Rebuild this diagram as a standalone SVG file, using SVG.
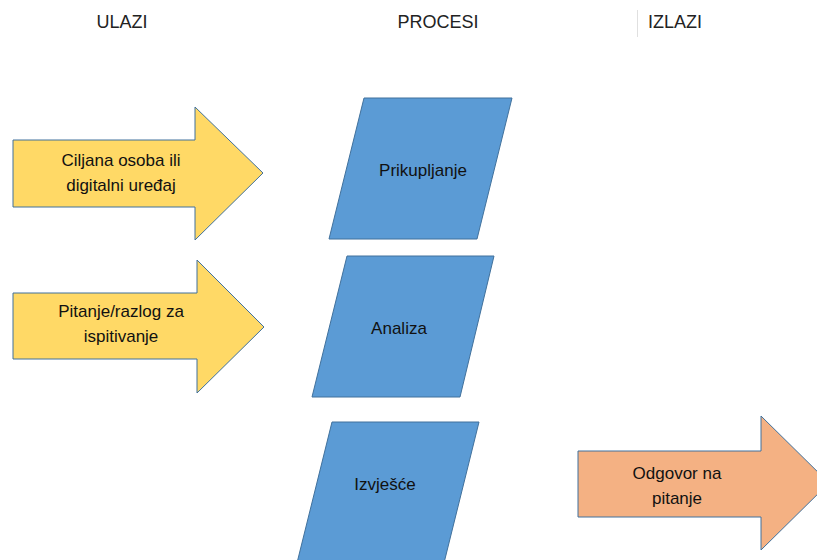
<svg xmlns="http://www.w3.org/2000/svg" width="817" height="560" viewBox="0 0 817 560">
<style>
text{font-family:"Liberation Sans",Arial,sans-serif;fill:#111;text-anchor:middle}
.h{font-size:18px;fill:#222}
.t{font-size:17px}
.in{fill:#FFD966;stroke:#41719C;stroke-width:1}
.pr{fill:#5B9BD5;stroke:#41719C;stroke-width:1}
.out{fill:#F4B183;stroke:#41719C;stroke-width:1}
</style>
<rect width="817" height="560" fill="#fff"/>
<g id="headers">
<text class="h" x="122" y="28">ULAZI</text>
<text class="h" x="438" y="28">PROCESI</text>
<text class="h" x="675" y="28">IZLAZI</text>
<line x1="637.5" y1="10" x2="637.5" y2="37" stroke="#e0e0e0" stroke-width="1"/>
</g>
<g id="connectors"></g>
<g id="in1">
<polygon class="in" points="13,140 195,140 195,107 263,173 195,240 195,207 13,207"/>
<text class="t" x="121" y="166">Ciljana osoba ili</text>
<text class="t" x="121" y="191">digitalni uređaj</text>
</g>
<g id="in2">
<polygon class="in" points="13,293 197,293 197,260 264,327 197,393 197,359 13,359"/>
<text class="t" x="121" y="317">Pitanje/razlog za</text>
<text class="t" x="121" y="342">ispitivanje</text>
</g>
<g id="p1">
<polygon class="pr" points="364,98 512,98 477,239 329,239"/>
<text class="t" x="423" y="176">Prikupljanje</text>
</g>
<g id="p2">
<polygon class="pr" points="347,256 494,256 460,397 312,397"/>
<text class="t" x="399" y="334">Analiza</text>
</g>
<g id="p3">
<polygon class="pr" points="332,422 479,422 444,563 297,563"/>
<text class="t" x="385" y="490">Izvješće</text>
</g>
<g id="out1">
<polygon class="out" points="578,451 761,451 761,416 829,483 761,550 761,517 578,517"/>
<text class="t" x="677" y="479">Odgovor na</text>
<text class="t" x="677" y="504">pitanje</text>
</g>
</svg>
